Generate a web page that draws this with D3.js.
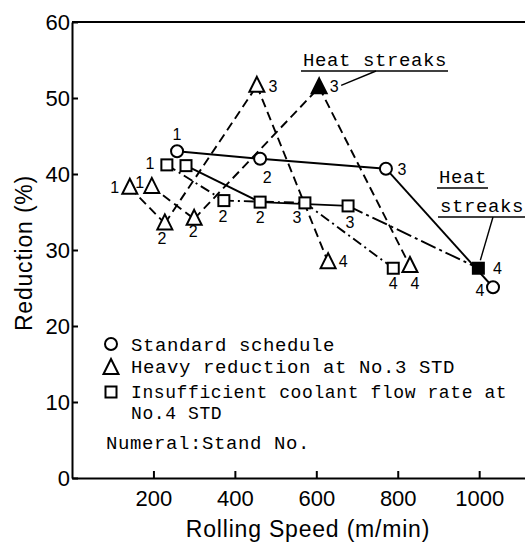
<!DOCTYPE html>
<meta charset="utf-8">
<title>Reduction vs Rolling Speed</title>
<head>
<style>
body { margin: 0; background: #fff; }
svg { display: block; }
.axis path, .axis line { stroke: #000; stroke-width: 2px; }
.axis text { font-family: "Liberation Sans", Arial, sans-serif; font-size: 22px; fill: #000; }
.title { font-family: "Liberation Sans", Arial, sans-serif; font-size: 23px; letter-spacing: 0.8px; fill: #000; }
.mono { font-family: "Liberation Mono", "Courier New", monospace; font-size: 19px; letter-spacing: 0.6px; fill: #000; }
.mono.tight { font-size: 18px; letter-spacing: 0.6px; }
.num { font-family: "Liberation Sans", Arial, sans-serif; font-size: 16px; fill: #000; }
</style>
</head>
<body>
<svg width="525" height="548"></svg>
<script src="https://d3js.org/d3.v7.min.js"></script>
<script>
// stand numbers shared by every schedule
var stands = [1, 2, 3, 4];

// standard schedule (circles)
var stdSpeed = [258, 462, 771, 1034];
var stdRed   = [43.0, 42.0, 40.7, 25.1];

// heavy reduction at No.3 STD, two runs (triangles)
var heavyASpeed = [142, 228, 454, 629];
var heavyARed   = [38.2, 33.5, 51.6, 28.4];
var heavyBSpeed = [196, 300, 607, 830];
var heavyBRed   = [38.3, 34.1, 51.4, 27.9];

// insufficient coolant flow rate at No.4 STD, two runs (squares)
var coolCSpeed = [233, 373, 572, 789];
var coolCRed   = [41.2, 36.5, 36.2, 27.6];
var coolDSpeed = [280, 462, 678, 998];
var coolDRed   = [41.1, 36.3, 35.8, 27.6];

var xTicks = [200, 400, 600, 800, 1000];
var yTicks = [0, 10, 20, 30, 40, 50, 60];

var svg = d3.select("svg"),
    mLeft = 72, mRight = 526, mTop = 22, mBottom = 478;

var x = d3.scaleLinear().domain([0, 1115]).range([mLeft, mRight]);
var y = d3.scaleLinear().domain([0, 60]).range([mBottom, mTop]);

function pts(sp, rd) { return sp.map(function(s, i) { return [s, rd[i]]; }); }

var series = [
  {pts: pts(stdSpeed, stdRed), mark: "circle", dash: [null, null, null], filled: [],
   lab: [[0,-17],[7,18],[16,1],[-13,3]]},
  {pts: pts(heavyASpeed, heavyARed), mark: "tri", dash: ["9,5","9,5","9,5"], filled: [],
   lab: [[-15,0],[-3,15],[16,0],[15,-1]]},
  {pts: pts(heavyBSpeed, heavyBRed), mark: "tri", dash: ["9,5","9,5","9,5"], filled: [2],
   lab: [[-12,-5],[-1,12],[15,-1],[5,17]]},
  {pts: pts(coolCSpeed, coolCRed), mark: "sq", dash: ["10,4,2,4","10,4,2,4","10,4,2,4"], filled: [],
   lab: [[-17,-2],[-1,16],[-8,14],[0,15]]},
  {pts: pts(coolDSpeed, coolDRed), mark: "sq", dash: [null, null, "16,4,3,4"], filled: [3],
   lab: [null,[0,15],[2,16],[19,0]]}
];

// frame
svg.append("line").attr("x1", mLeft).attr("x2", mRight).attr("y1", mTop).attr("y2", mTop)
  .attr("stroke", "#000").attr("stroke-width", 2);

var xAxis = d3.axisBottom(x).tickValues(xTicks).tickFormat(d3.format("d"))
  .tickSizeInner(-7).tickSizeOuter(0).tickPadding(12);
var yAxis = d3.axisLeft(y).tickValues(yTicks).tickSizeInner(-6).tickSizeOuter(0).tickPadding(2);

svg.append("g").attr("class", "axis").attr("transform", "translate(0," + mBottom + ")").call(xAxis);
svg.append("g").attr("class", "axis").attr("transform", "translate(" + mLeft + ",0)").call(yAxis);

svg.append("text").attr("class", "title").attr("x", 308).attr("y", 537)
  .attr("text-anchor", "middle").text("Rolling Speed (m/min)");
svg.append("text").attr("class", "title").attr("transform", "translate(32,253) rotate(-90)")
  .attr("text-anchor", "middle").text("Reduction (%)");

// lines, segment by segment
series.forEach(function(s) {
  for (var i = 0; i < s.pts.length - 1; i++) {
    svg.append("line")
      .attr("x1", x(s.pts[i][0])).attr("y1", y(s.pts[i][1]))
      .attr("x2", x(s.pts[i+1][0])).attr("y2", y(s.pts[i+1][1]))
      .attr("stroke", "#000").attr("stroke-width", 1.9)
      .attr("stroke-dasharray", s.dash[i]);
  }
});

function marker(g, type, cx, cy, filled) {
  var fill = filled ? "#000" : "#fff";
  if (type == "circle") {
    g.append("circle").attr("cx", cx).attr("cy", cy).attr("r", 6)
      .attr("fill", fill).attr("stroke", "#000").attr("stroke-width", 2);
  } else if (type == "tri") {
    g.append("path").attr("d", "M" + cx + "," + (cy - 9) + "L" + (cx + 7.5) + "," + (cy + 6) +
      "L" + (cx - 7.5) + "," + (cy + 6) + "Z")
      .attr("fill", fill).attr("stroke", "#000").attr("stroke-width", 2);
  } else {
    g.append("rect").attr("x", cx - 5.5).attr("y", cy - 5.5).attr("width", 11).attr("height", 11)
      .attr("fill", fill).attr("stroke", "#000").attr("stroke-width", 2);
  }
}

var marks = svg.append("g");
series.forEach(function(s) {
  s.pts.forEach(function(p, i) {
    var cx = x(p[0]), cy = y(p[1]);
    marker(marks, s.mark, cx, cy, s.filled.indexOf(i) >= 0);
    if (s.lab[i]) {
      marks.append("text").attr("class", "num")
        .attr("x", cx + s.lab[i][0]).attr("y", cy + s.lab[i][1])
        .attr("text-anchor", "middle").attr("dy", "0.36em").text(stands[i]);
    }
  });
});

// heat streak notes
function note(tx, ty, txt) {
  var t = svg.append("text").attr("class", "mono").attr("x", tx).attr("y", ty).text(txt);
  var w = t.node().getComputedTextLength();
  svg.append("line").attr("x1", tx - 2).attr("x2", tx + w + 1).attr("y1", ty + 5).attr("y2", ty + 5)
    .attr("stroke", "#000").attr("stroke-width", 1.6);
}
note(303, 66, "Heat streaks");
note(439, 183, "Heat");
note(440, 212, "streaks");
svg.append("line").attr("x1", 376).attr("y1", 71).attr("x2", x(heavyBSpeed[2]) + 22).attr("y2", y(heavyBRed[2]) - 2)
  .attr("stroke", "#000").attr("stroke-width", 1.4);
svg.append("line").attr("x1", 493).attr("y1", 217).attr("x2", x(coolDSpeed[3]) + 2).attr("y2", y(coolDRed[3]) - 8)
  .attr("stroke", "#000").attr("stroke-width", 1.4);

// legend
var lg = svg.append("g");
marker(lg, "circle", 111, 344, false);
marker(lg, "tri", 111, 368, false);
marker(lg, "sq", 111, 392, false);
lg.append("text").attr("class", "mono").attr("x", 131).attr("y", 351).text("Standard schedule");
lg.append("text").attr("class", "mono").attr("x", 131).attr("y", 373).text("Heavy reduction at No.3 STD");
lg.append("text").attr("class", "mono tight").attr("x", 131).attr("y", 398).text("Insufficient coolant flow rate at");
lg.append("text").attr("class", "mono tight").attr("x", 131).attr("y", 419).text("No.4 STD");
lg.append("text").attr("class", "mono").attr("x", 106).attr("y", 449).text("Numeral:Stand No.");
</script>
</body>
</html>
